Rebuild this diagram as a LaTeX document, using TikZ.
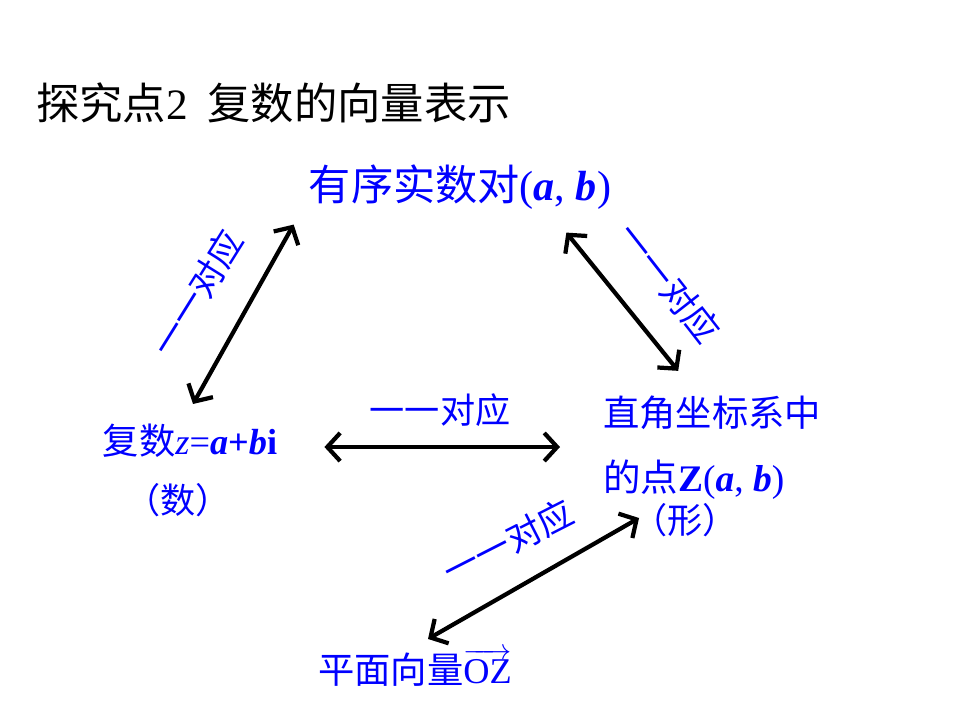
\documentclass[tikz,border=0pt]{standalone}
\usepackage{amsmath}
\usepackage{fontspec}
\setmainfont{Liberation Serif}
\newfontfamily\cjk{Noto Sans CJK SC}
\usepackage{tikz}
\usetikzlibrary{arrows.meta}

\tikzset{
  txt/.style={inner sep=0pt, text=blue},
  lab/.style={inner sep=0pt, text=blue, font=\cjk\fontsize{30}{31}\selectfont},
  dbl/.style={line width=3.6pt, {Straight Barb[length=11pt,width=24pt]}-{Straight Barb[length=11pt,width=24pt]}}
}

\begin{document}
\begin{tikzpicture}[x=0.03cm, y=-0.03cm]
\useasboundingbox (0,0) rectangle (960,720);
					% Titre
					\node[inner sep=0pt, anchor=west, font=\fontsize{37}{38}\selectfont] (titre) at (36,103) {{\cjk 探究点}2\hspace{0.45em}{\cjk 复数的向量表示}};
					
					% Les quatre objets
					\node[txt, font=\fontsize{36}{37}\selectfont] (paire) at (460,187) {{\cjk 有序实数对}(\textbf{\textit{a}}, \textbf{\textit{b}})};
					\node[txt, font=\fontsize{31}{32}\selectfont] (nombre) at (190,441) {{\cjk 复数}\textit{z}=\textbf{\textit{a}}\textbf{+}\textbf{\textit{b}}\textbf{i}};
					\node[txt, font=\cjk\fontsize{30}{31}\selectfont] (nb) at (178,500) {（数）};
					\node[txt, anchor=west, font=\cjk\fontsize{31}{32}\selectfont] (plan) at (603,413) {直角坐标系中};
					\node[txt, anchor=west, font=\fontsize{32}{33}\selectfont] (point) at (603,480) {{\cjk 的点}\textbf{Z}(\textbf{\textit{a}}, \textbf{\textit{b}})};
					\node[txt, font=\cjk\fontsize{30}{31}\selectfont] (forme) at (685,520) {（形）};
					\node[txt, font=\fontsize{31}{32}\selectfont] (vecteur) at (415,668) {{\cjk 平面向量}$\overrightarrow{\text{OZ}}$};
					
					% Etiquettes
					\foreach \x/\y/\r in {440/410/0, 197/293/58, 669/283/-52, 508/542/27} {
						\node[lab, rotate=\r] (e\x) at (\x,\y) {一一对应};
					}
					
					% Flèches
					\draw[dbl] ([shift={(-15,15)}]paire.south west) -- ([shift={(3,-20)}]nombre.north);
					\draw[dbl] ([shift={(-45,23)}]paire.south east) -- ([shift={(-34,-25)}]plan.north);
					\draw[dbl] ([shift={(47,6)}]nombre.east) -- ([shift={(-43,-33)}]point.west);
					\draw[dbl] ([shift={(7,-2)}]forme.west) -- ([shift={(13,-10)}]vecteur.north);
				\end{tikzpicture}
\end{document}
